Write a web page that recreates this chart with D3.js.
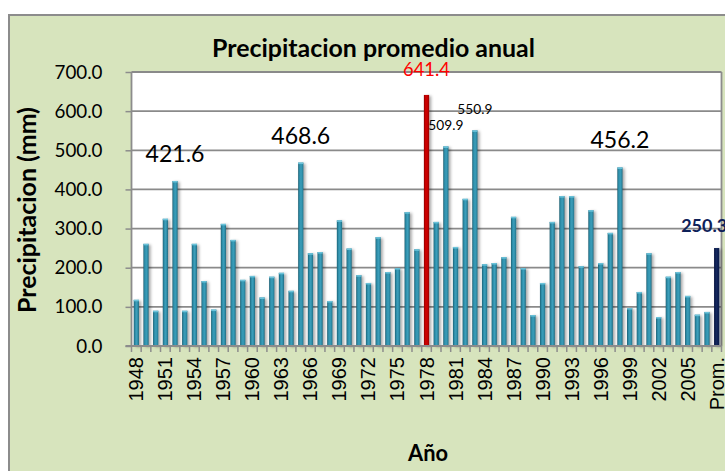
<!DOCTYPE html>
<html><head><meta charset="utf-8">
<script src="https://cdn.jsdelivr.net/npm/d3@7/dist/d3.min.js"></script>
<style>html,body{margin:0;padding:0;background:#fff;overflow:hidden}</style>
</head><body><svg id="c" width="725" height="471"></svg>
<script>
const categories = ["1948","1949","1950","1951","1952","1953","1954","1955","1956","1957",
"1958","1959","1960","1961","1962","1963","1964","1965","1966","1967",
"1968","1969","1970","1971","1972","1973","1974","1975","1976","1977",
"1978","1979","1980","1981","1982","1983","1984","1985","1986","1987",
"1988","1989","1990","1991","1992","1993","1994","1995","1996","1997",
"1998","1999","2000","2001","2002","2003","2004","2005","2006","2007","Prom."];
const values = [118,261,90,325,421.6,90,261,166,93,312,
271,169,179,124,177,187,141,468.6,237,240,
115,321,249,181,161,278,189,199,342,247,
641.4,317,509.9,253,376,550.9,209,212,227,330,
199,79,161,317,383,383,204,347,212,289,
456.2,97,138,237,74,177,189,128,80,87,250.3];
const tickLabels = ["1948","1951","1954","1957","1960","1963","1966","1969","1972","1975",
"1978","1981","1984","1987","1990","1993","1996","1999","2002","2005","Prom."];
const yTicks = [0,100,200,300,400,500,600,700];
const maxCategory = "1978";
const averageCategory = "Prom.";
const bigLabelCats = ["1952","1965","1998"];
const smallLabelCats = ["1980","1983"];
const title = "Precipitacion promedio anual";
const yTitle = "Precipitacion (mm)";
const xTitle = "Año";

const svg = d3.select("#c");
const X0 = 131.5, X1 = 721.5, YT = 72, YB = 346;
const data = categories.map((c,i)=>({cat:c, v:values[i]}));

const x = d3.scaleBand().domain(categories).range([X0, X1]).paddingInner(0.46).paddingOuter(0.23);
const y = d3.scaleLinear().domain([0,700]).range([YB, YT]);

const defs = svg.append("defs");
function grad(id, stops){
  const g = defs.append("linearGradient").attr("id",id).attr("x1","0").attr("x2","1").attr("y1","0").attr("y2","0");
  stops.forEach(s=>g.append("stop").attr("offset",s[0]).attr("stop-color",s[1]));
}
grad("teal", [[0,"#1a5a6d"],[0.22,"#2b88a3"],[0.55,"#3b9fbb"],[0.85,"#2b86a0"],[1,"#1c5f73"]]);
grad("red", [[0,"#8a0000"],[0.35,"#d20000"],[0.7,"#c40000"],[1,"#900000"]]);
grad("navy", [[0,"#081640"],[0.4,"#13275e"],[1,"#0a1a48"]]);
const f = defs.append("filter").attr("id","sh").attr("x","-50%").attr("y","-10%").attr("width","250%").attr("height","130%");
f.append("feDropShadow").attr("dx",2).attr("dy",1).attr("stdDeviation",1.6).attr("flood-color","#000").attr("flood-opacity",0.35);

// chart background
svg.append("rect").attr("x",9).attr("y",15).attr("width",800).attr("height",500)
  .attr("fill","#D7E4BD").attr("stroke","#8c8c8c").attr("stroke-width",2);
// plot area
svg.append("rect").attr("x",X0).attr("y",YT).attr("width",X1-X0).attr("height",YB-YT).attr("fill","#fff");
svg.append("line").attr("x1",X1).attr("x2",X1).attr("y1",YT).attr("y2",YB).attr("stroke","#8c8c8c").attr("stroke-width",1.8);

// gridlines
svg.append("g").selectAll("line").data(yTicks.filter(t=>t>0)).join("line")
  .attr("x1",X0).attr("x2",X1).attr("y1",d=>y(d)).attr("y2",d=>y(d))
  .attr("stroke","#8a8a8a").attr("stroke-width",1.8);

// y axis
const yAx = svg.append("g").attr("transform",`translate(${X0},0)`)
  .call(d3.axisLeft(y).tickValues(yTicks).tickSize(6).tickPadding(23).tickFormat(d=>d.toFixed(1)));
yAx.select(".domain").attr("stroke","#8c8c8c").attr("stroke-width",1.8).attr("d",`M0,${YT}V${YB}`);
yAx.selectAll(".tick line").attr("stroke","#8c8c8c").attr("stroke-width",1.5);
yAx.selectAll(".tick text").attr("font-family","Lato, sans-serif").attr("font-size",18).attr("fill","#000");
// fit tick label size
(function(){
  const n = yAx.selectAll(".tick text").nodes().find(t=>t.textContent==="700.0");
  const l = n.getComputedTextLength();
  yAx.selectAll(".tick text").attr("font-size", 18*48/l);
})();

// bars
const bars = svg.append("g").attr("filter","url(#sh)");
bars.selectAll("rect").data(data).join("rect")
  .attr("x",d=>x(d.cat)).attr("width",x.bandwidth())
  .attr("y",d=>y(d.v)).attr("height",d=>YB-y(d.v))
  .attr("fill",d=>d.cat===maxCategory?"url(#red)":d.cat===averageCategory?"url(#navy)":"url(#teal)");
// top caps for teal bars
svg.append("g").selectAll("rect").data(data.filter(d=>d.cat!==maxCategory&&d.cat!==averageCategory)).join("rect")
  .attr("x",d=>x(d.cat)).attr("width",x.bandwidth()).attr("y",d=>y(d.v)).attr("height",1.5)
  .attr("fill","#6cc3da");

// x axis
svg.append("line").attr("x1",X0-6).attr("x2",X1).attr("y1",YB).attr("y2",YB).attr("stroke","#8c8c8c").attr("stroke-width",1.8);
const bounds = categories.map(c=>x(c)-x.step()*x.paddingInner()/2).concat([X1]);
svg.append("g").selectAll("line").data(bounds).join("line")
  .attr("x1",d=>d).attr("x2",d=>d).attr("y1",YB).attr("y2",YB+6).attr("stroke","#8c8c8c").attr("stroke-width",1.5);
svg.append("g").selectAll("text").data(tickLabels).join("text")
  .attr("transform",d=>`translate(${x(d)+x.bandwidth()/2+7},357) rotate(-90)`)
  .attr("text-anchor","end").attr("font-family","'Liberation Sans', Arial, sans-serif").attr("font-size",20)
  .attr("fill","#000").text(d=>d);

function fit(sel, w){
  const fs = parseFloat(sel.attr("font-size"));
  const l = sel.node().getComputedTextLength();
  sel.attr("font-size", fs*w/l);
  return sel;
}

// titles
fit(svg.append("text").attr("x",373.5).attr("y",56.7).attr("text-anchor","middle")
  .attr("font-family","Lato, sans-serif").attr("font-weight","bold").attr("font-size",21).text(title), 323);
fit(svg.append("text").attr("transform","translate(36,210) rotate(-90)").attr("text-anchor","middle")
  .attr("font-family","Lato, sans-serif").attr("font-weight","bold").attr("font-size",20).text(yTitle), 206);
fit(svg.append("text").attr("x",428).attr("y",461).attr("text-anchor","middle")
  .attr("font-family","Lato, sans-serif").attr("font-weight","bold").attr("font-size",20).text(xTitle), 40);

// data labels
const byCat = new Map(data.map(d=>[d.cat,d]));
bigLabelCats.forEach(c=>{
  const d = byCat.get(c);
  fit(svg.append("text").attr("x",x(c)+x.bandwidth()/2).attr("y",y(d.v)-19).attr("text-anchor","middle")
    .attr("font-family","Lato, sans-serif").attr("font-size",24).attr("fill","#000").text(d.v.toFixed(1)), 59);
});
smallLabelCats.forEach(c=>{
  const d = byCat.get(c);
  fit(svg.append("text").attr("x",x(c)+x.bandwidth()/2).attr("y",y(d.v)-16.2).attr("text-anchor","middle")
    .attr("font-family","Lato, sans-serif").attr("font-size",15).attr("fill","#000").text(d.v.toFixed(1)), 35);
});
(function(){
  const d = byCat.get(maxCategory);
  fit(svg.append("text").attr("x",x(d.cat)+x.bandwidth()/2).attr("y",y(d.v)-19.2).attr("text-anchor","middle")
    .attr("font-family","Lato, sans-serif").attr("font-size",20).attr("fill","#FF0000").text(d.v.toFixed(1)), 47);
  const a = byCat.get(averageCategory);
  fit(svg.append("text").attr("x",x(a.cat)+x.bandwidth()/2-35.5).attr("y",y(a.v)-16.3).attr("text-anchor","start")
    .attr("font-family","Lato, sans-serif").attr("font-weight","bold").attr("font-size",20).attr("fill","#0E2159").text(a.v.toFixed(1)), 46);
})();
</script></body></html>
